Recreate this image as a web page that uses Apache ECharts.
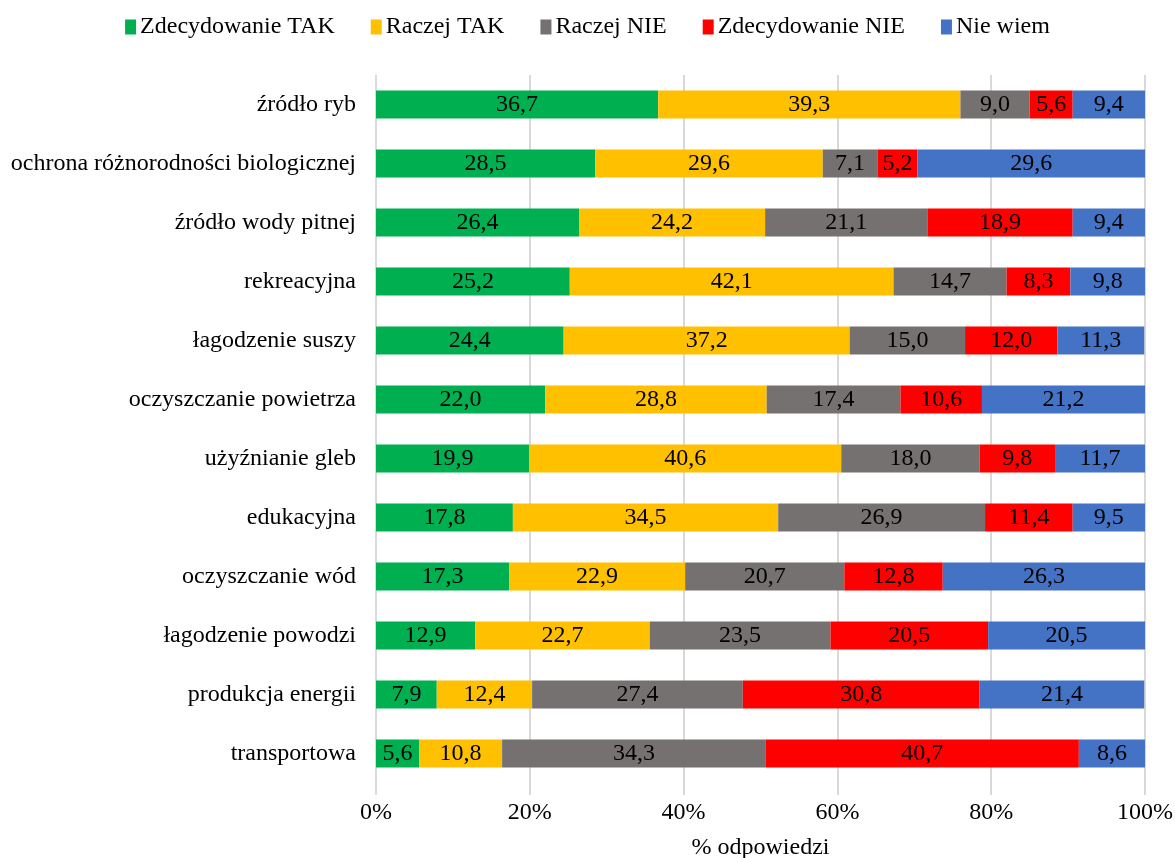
<!DOCTYPE html>
<html>
<head>
<meta charset="utf-8">
<script src="https://cdn.jsdelivr.net/npm/echarts@6/dist/echarts.min.js"></script>
<style>
html, body { margin: 0; padding: 0; background: #fff; }
#main { width: 1175px; height: 858px; }
</style>
</head>
<body>
<div id="main"></div>
<script>
var categories = ['źródło ryb', 'ochrona różnorodności biologicznej', 'źródło wody pitnej',
    'rekreacyjna', 'łagodzenie suszy', 'oczyszczanie powietrza', 'użyźnianie gleb',
    'edukacyjna', 'oczyszczanie wód', 'łagodzenie powodzi', 'produkcja energii', 'transportowa'];
var seriesNames = ['Zdecydowanie TAK', 'Raczej TAK', 'Raczej NIE', 'Zdecydowanie NIE', 'Nie wiem'];
var zdecTak = [36.7, 28.5, 26.4, 25.2, 24.4, 22.0, 19.9, 17.8, 17.3, 12.9, 7.9, 5.6];
var raczejTak = [39.3, 29.6, 24.2, 42.1, 37.2, 28.8, 40.6, 34.5, 22.9, 22.7, 12.4, 10.8];
var raczejNie = [9.0, 7.1, 21.1, 14.7, 15.0, 17.4, 18.0, 26.9, 20.7, 23.5, 27.4, 34.3];
var zdecNie = [5.6, 5.2, 18.9, 8.3, 12.0, 10.6, 9.8, 11.4, 12.8, 20.5, 30.8, 40.7];
var nieWiem = [9.4, 29.6, 9.4, 9.8, 11.3, 21.2, 11.7, 9.5, 26.3, 20.5, 21.4, 8.6];
var colors = ['#00B050', '#FFC000', '#767171', '#FF0000', '#4472C4'];

var font = '"Liberation Serif", "Times New Roman", serif';
var fs = 24;

function makeSeries(i, data) {
    return {
        name: seriesNames[i],
        type: 'bar',
        stack: 'all',
        barWidth: 28,
        data: data,
        itemStyle: { color: colors[i] },
        label: {
            show: true,
            position: 'inside',
            color: '#000',
            fontFamily: font,
            fontSize: fs,
            formatter: function (p) {
                return p.value.toFixed(1).replace('.', ',');
            }
        }
    };
}

option = {
    color: colors,
    textStyle: { fontFamily: font },
    legend: {
        top: 10,
        left: 'center',
        itemWidth: 11,
        itemHeight: 15,
        itemGap: 36,
        icon: 'rect',
        textStyle: { fontFamily: font, fontSize: fs, color: '#000', padding: [0, 0, 0, -1] },
        data: seriesNames
    },
    grid: {
        left: 376,
        right: 30,
        top: 75,
        bottom: 75,
        outerBoundsMode: 'none',
        containLabel: false
    },
    xAxis: {
        type: 'value',
        min: 0,
        max: 100,
        interval: 20,
        axisLine: { show: false },
        axisTick: { show: true, length: 12, lineStyle: { color: '#D9D9D9', width: 2 } },
        splitLine: { show: true, lineStyle: { color: '#D9D9D9', width: 2 } },
        axisLabel: {
            margin: 18,
            color: '#000',
            fontFamily: font,
            fontSize: fs,
            formatter: '{value}%'
        },
        name: '% odpowiedzi',
        nameLocation: 'middle',
        nameGap: 53,
        nameTextStyle: { color: '#000', fontFamily: font, fontSize: fs }
    },
    yAxis: {
        type: 'category',
        data: categories,
        inverse: true,
        axisLine: { show: false },
        axisTick: { show: false },
        axisLabel: {
            margin: 20,
            color: '#000',
            fontFamily: font,
            fontSize: fs
        }
    },
    series: [
        makeSeries(0, zdecTak),
        makeSeries(1, raczejTak),
        makeSeries(2, raczejNie),
        makeSeries(3, zdecNie),
        makeSeries(4, nieWiem)
    ]
};
var myChart = echarts.init(document.getElementById('main'));
myChart.setOption(option);
</script>
</body>
</html>
